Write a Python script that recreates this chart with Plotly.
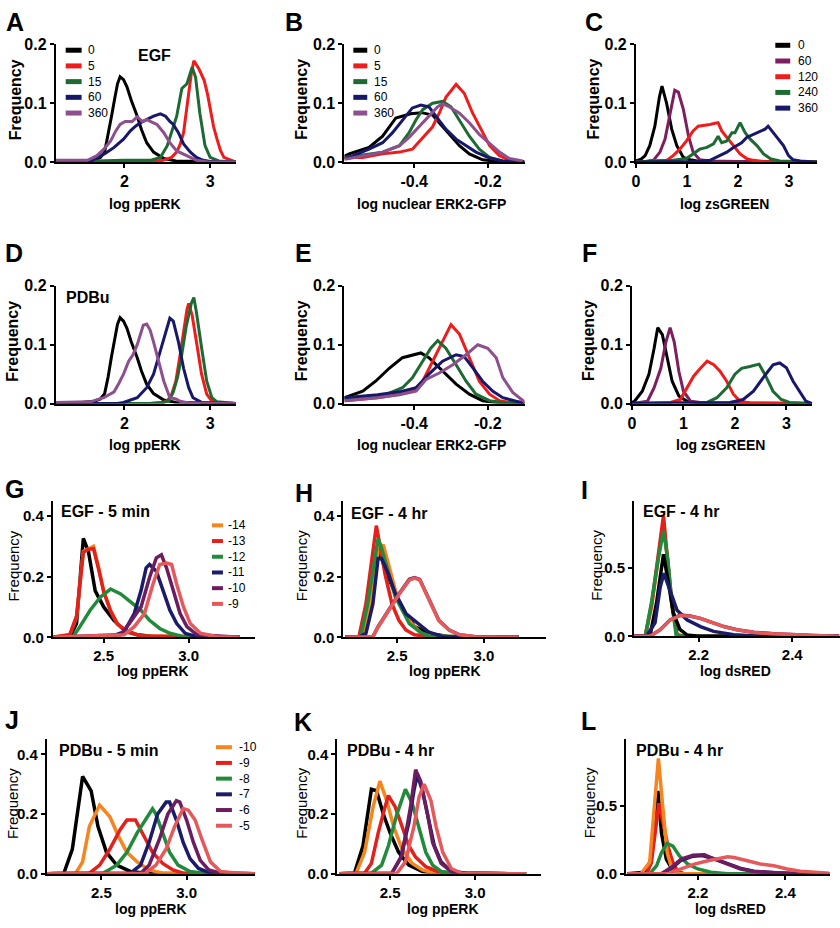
import plotly.graph_objects as go

# ---------------- colours ----------------
BLACK = "#000000"
RED = "#f01c1c"
GREEN_D = "#1d6a33"
NAVY = "#17186a"
MAUVE = "#8d4f8e"
WINE = "#7d1f5f"
ORANGE = "#f6841f"
RED2 = "#e3201b"
GREEN2 = "#228b3b"
NAVY2 = "#1b1b6b"
PURPLE2 = "#6c1c5f"
SALMON = "#e5595b"

# ---------------- data ----------------
# Panel A  (EGF, log ppERK)
A_labels = ["0", "5", "15", "60", "360"]
A0_x = [1.2, 1.5, 1.65, 1.72, 1.77, 1.81, 1.85, 1.89, 1.92, 1.95, 1.99, 2.03, 2.08, 2.15, 2.2, 2.26, 2.34, 2.46, 2.6, 3.3]
A0_y = [0.001, 0.002, 0.004, 0.008, 0.017, 0.045, 0.078, 0.11, 0.133, 0.145, 0.14, 0.128, 0.105, 0.078, 0.055, 0.033, 0.017, 0.006, 0.002, 0.0]
A1_x = [1.2, 2.3, 2.45, 2.55, 2.61, 2.65, 2.69, 2.72, 2.75, 2.78, 2.81, 2.87, 2.93, 2.97, 3.0, 3.04, 3.08, 3.12, 3.16, 3.3]
A1_y = [0.0, 0.001, 0.003, 0.008, 0.017, 0.03, 0.05, 0.08, 0.117, 0.15, 0.172, 0.158, 0.139, 0.115, 0.089, 0.06, 0.039, 0.02, 0.008, 0.0]
A2_x = [1.2, 1.6, 2.0, 2.3, 2.42, 2.5, 2.55, 2.61, 2.67, 2.73, 2.79, 2.83, 2.88, 2.94, 3.0, 3.1, 3.3]
A2_y = [0.0, 0.002, 0.003, 0.003, 0.008, 0.028, 0.05, 0.078, 0.125, 0.133, 0.161, 0.144, 0.083, 0.028, 0.008, 0.002, 0.0]
A3_x = [1.2, 1.58, 1.69, 1.78, 1.88, 1.99, 2.07, 2.13, 2.19, 2.26, 2.34, 2.42, 2.48, 2.53, 2.57, 2.63, 2.69, 2.77, 2.84, 2.92, 3.0, 3.3]
A3_y = [0.0, 0.0, 0.008, 0.015, 0.025, 0.039, 0.053, 0.061, 0.067, 0.072, 0.078, 0.082, 0.078, 0.069, 0.064, 0.05, 0.031, 0.017, 0.008, 0.003, 0.001, 0.0]
A4_x = [1.2, 1.57, 1.68, 1.76, 1.84, 1.9, 1.95, 2.01, 2.09, 2.15, 2.21, 2.26, 2.32, 2.38, 2.46, 2.53, 2.61, 2.69, 2.77, 2.84, 3.0, 3.3]
A4_y = [0.003, 0.003, 0.011, 0.022, 0.036, 0.053, 0.064, 0.069, 0.069, 0.077, 0.069, 0.072, 0.068, 0.064, 0.05, 0.033, 0.019, 0.014, 0.008, 0.003, 0.0, 0.0]

# Panel B  (EGF, log nuclear ERK2-GFP)
B0_x = [-0.59, -0.577, -0.523, -0.486, -0.45, -0.41, -0.38, -0.35, -0.332, -0.305, -0.277, -0.25, -0.214, -0.17, -0.1]
B0_y = [0.01, 0.014, 0.025, 0.044, 0.075, 0.082, 0.084, 0.08, 0.067, 0.047, 0.028, 0.014, 0.004, 0.001, 0.0]
B1_x = [-0.59, -0.54, -0.486, -0.44, -0.405, -0.377, -0.35, -0.332, -0.314, -0.286, -0.264, -0.241, -0.214, -0.195, -0.168, -0.141, -0.1]
B1_y = [0.008, 0.008, 0.014, 0.017, 0.022, 0.042, 0.06, 0.083, 0.11, 0.132, 0.117, 0.083, 0.05, 0.028, 0.011, 0.003, 0.0]
B2_x = [-0.59, -0.54, -0.486, -0.44, -0.414, -0.395, -0.377, -0.35, -0.323, -0.3, -0.277, -0.25, -0.223, -0.195, -0.16, -0.1]
B2_y = [0.008, 0.012, 0.017, 0.028, 0.05, 0.072, 0.089, 0.1, 0.103, 0.094, 0.072, 0.044, 0.022, 0.008, 0.002, 0.0]
B3_x = [-0.59, -0.577, -0.523, -0.486, -0.459, -0.432, -0.405, -0.382, -0.36, -0.341, -0.314, -0.286, -0.259, -0.232, -0.195, -0.159, -0.1]
B3_y = [0.006, 0.008, 0.022, 0.033, 0.05, 0.072, 0.092, 0.097, 0.094, 0.078, 0.056, 0.039, 0.028, 0.017, 0.007, 0.002, 0.0]
B4_x = [-0.59, -0.577, -0.486, -0.44, -0.414, -0.386, -0.36, -0.336, -0.323, -0.305, -0.277, -0.25, -0.223, -0.195, -0.168, -0.141, -0.105]
B4_y = [0.005, 0.006, 0.017, 0.028, 0.042, 0.061, 0.078, 0.094, 0.099, 0.094, 0.083, 0.067, 0.047, 0.031, 0.017, 0.006, 0.002]

# Panel C  (EGF, log zsGREEN)
C_labels = ["0", "60", "120", "240", "360"]
C0_x = [0, 0.1, 0.18, 0.27, 0.37, 0.46, 0.51, 0.6, 0.7, 0.8, 0.93, 1.06, 1.2, 1.5, 3.55]
C0_y = [0.002, 0.005, 0.011, 0.028, 0.061, 0.111, 0.129, 0.1, 0.056, 0.028, 0.008, 0.004, 0.002, 0.001, 0.0]
C1_x = [0, 0.2, 0.34, 0.47, 0.57, 0.67, 0.76, 0.83, 0.93, 1.03, 1.12, 1.25, 1.45, 2.0, 3.55]
C1_y = [0.0, 0.001, 0.003, 0.017, 0.039, 0.083, 0.122, 0.119, 0.089, 0.044, 0.017, 0.004, 0.002, 0.001, 0.0]
C2_x = [0, 0.6, 0.73, 0.86, 0.99, 1.12, 1.22, 1.32, 1.45, 1.55, 1.61, 1.68, 1.78, 1.91, 2.04, 2.17, 2.3, 2.5, 3.55]
C2_y = [0.0, 0.003, 0.011, 0.022, 0.036, 0.053, 0.061, 0.062, 0.064, 0.066, 0.067, 0.053, 0.042, 0.028, 0.014, 0.006, 0.003, 0.001, 0.0]
C3_x = [0, 0.73, 0.99, 1.12, 1.25, 1.39, 1.52, 1.61, 1.68, 1.78, 1.88, 1.94, 2.04, 2.14, 2.24, 2.37, 2.5, 2.63, 2.82, 3.55]
C3_y = [0.0, 0.003, 0.006, 0.014, 0.022, 0.025, 0.031, 0.044, 0.033, 0.036, 0.05, 0.05, 0.067, 0.05, 0.039, 0.028, 0.014, 0.006, 0.002, 0.0]
C4_x = [0, 1.2, 1.45, 1.65, 1.78, 1.91, 2.07, 2.17, 2.3, 2.43, 2.53, 2.59, 2.69, 2.79, 2.89, 2.99, 3.08, 3.22, 3.55]
C4_y = [0.0, 0.001, 0.003, 0.011, 0.017, 0.025, 0.033, 0.042, 0.047, 0.053, 0.056, 0.061, 0.05, 0.039, 0.028, 0.011, 0.004, 0.002, 0.0]

# Panel D  (PDBu, log ppERK)
D0_x = [1.2, 1.5, 1.65, 1.72, 1.77, 1.81, 1.85, 1.89, 1.92, 1.95, 1.99, 2.03, 2.08, 2.15, 2.2, 2.26, 2.34, 2.46, 2.6, 3.3]
D0_y = [0.001, 0.002, 0.004, 0.008, 0.017, 0.045, 0.08, 0.112, 0.135, 0.146, 0.14, 0.128, 0.105, 0.078, 0.055, 0.033, 0.017, 0.006, 0.002, 0.0]
D1_x = [1.2, 2.3, 2.45, 2.5, 2.55, 2.6, 2.65, 2.69, 2.73, 2.75, 2.79, 2.84, 2.9, 2.96, 3.02, 3.1, 3.3]
D1_y = [0.0, 0.0, 0.002, 0.005, 0.015, 0.038, 0.083, 0.125, 0.16, 0.17, 0.15, 0.105, 0.05, 0.016, 0.004, 0.001, 0.0]
D2_x = [1.2, 2.3, 2.45, 2.52, 2.57, 2.62, 2.66, 2.69, 2.72, 2.75, 2.78, 2.81, 2.84, 2.9, 2.96, 3.02, 3.08, 3.3]
D2_y = [0.0, 0.0, 0.002, 0.005, 0.02, 0.045, 0.075, 0.105, 0.13, 0.15, 0.17, 0.18, 0.155, 0.095, 0.038, 0.01, 0.003, 0.0]
D3_x = [1.2, 1.9, 1.99, 2.15, 2.26, 2.34, 2.42, 2.48, 2.53, 2.57, 2.63, 2.69, 2.75, 2.8, 2.9, 3.3]
D3_y = [0.0, 0.0, 0.002, 0.01, 0.027, 0.05, 0.09, 0.12, 0.145, 0.14, 0.105, 0.06, 0.027, 0.01, 0.002, 0.0]
D4_x = [1.2, 1.6, 1.76, 1.88, 1.93, 1.99, 2.05, 2.1, 2.15, 2.19, 2.22, 2.26, 2.3, 2.34, 2.4, 2.46, 2.53, 2.6, 2.65, 2.75, 3.3]
D4_y = [0.002, 0.003, 0.01, 0.02, 0.033, 0.05, 0.072, 0.083, 0.1, 0.12, 0.133, 0.135, 0.125, 0.105, 0.072, 0.038, 0.01, 0.008, 0.004, 0.001, 0.0]

# Panel E  (PDBu, log nuclear ERK2-GFP)
E0_x = [-0.59, -0.54, -0.505, -0.468, -0.432, -0.382, -0.36, -0.323, -0.286, -0.25, -0.214, -0.177, -0.1]
E0_y = [0.01, 0.021, 0.038, 0.06, 0.078, 0.086, 0.078, 0.055, 0.033, 0.016, 0.005, 0.002, 0.0]
E1_x = [-0.59, -0.5, -0.45, -0.405, -0.377, -0.35, -0.323, -0.3, -0.277, -0.25, -0.223, -0.195, -0.168, -0.13, -0.1]
E1_y = [0.005, 0.01, 0.015, 0.021, 0.038, 0.072, 0.105, 0.134, 0.118, 0.078, 0.038, 0.016, 0.005, 0.001, 0.0]
E2_x = [-0.59, -0.486, -0.432, -0.405, -0.377, -0.355, -0.336, -0.314, -0.286, -0.259, -0.232, -0.195, -0.15, -0.1]
E2_y = [0.008, 0.013, 0.027, 0.044, 0.072, 0.094, 0.107, 0.094, 0.066, 0.038, 0.016, 0.005, 0.001, 0.0]
E3_x = [-0.59, -0.5, -0.44, -0.395, -0.36, -0.323, -0.286, -0.264, -0.241, -0.214, -0.186, -0.159, -0.123, -0.1]
E3_y = [0.01, 0.015, 0.02, 0.027, 0.05, 0.072, 0.083, 0.08, 0.061, 0.038, 0.021, 0.01, 0.004, 0.001]
E4_x = [-0.59, -0.5, -0.44, -0.395, -0.368, -0.332, -0.295, -0.259, -0.227, -0.2, -0.177, -0.159, -0.132, -0.105, -0.1]
E4_y = [0.005, 0.01, 0.015, 0.021, 0.041, 0.052, 0.066, 0.083, 0.1, 0.094, 0.078, 0.044, 0.019, 0.005, 0.003]

# Panel F  (PDBu, log zsGREEN)
F0_x = [0, 0.05, 0.2, 0.33, 0.43, 0.5, 0.59, 0.69, 0.78, 0.91, 1.07, 1.3, 3.5]
F0_y = [0.002, 0.004, 0.021, 0.05, 0.094, 0.129, 0.117, 0.078, 0.038, 0.013, 0.004, 0.001, 0.0]
F1_x = [0, 0.3, 0.43, 0.56, 0.66, 0.74, 0.82, 0.91, 1.0, 1.14, 1.4, 3.5]
F1_y = [0.0, 0.004, 0.027, 0.06, 0.105, 0.129, 0.105, 0.055, 0.021, 0.004, 0.001, 0.0]
F2_x = [0, 0.75, 0.94, 1.07, 1.2, 1.33, 1.46, 1.59, 1.71, 1.84, 1.97, 2.1, 2.3, 3.5]
F2_y = [0.0, 0.002, 0.007, 0.027, 0.047, 0.06, 0.072, 0.066, 0.055, 0.038, 0.016, 0.004, 0.001, 0.0]
F3_x = [0, 1.46, 1.65, 1.84, 2.0, 2.13, 2.29, 2.47, 2.58, 2.74, 2.9, 3.06, 3.5]
F3_y = [0.0, 0.002, 0.01, 0.027, 0.05, 0.06, 0.063, 0.067, 0.05, 0.021, 0.007, 0.002, 0.0]
F4_x = [0, 1.9, 2.16, 2.36, 2.55, 2.74, 2.87, 3.0, 3.13, 3.26, 3.38, 3.5]
F4_y = [0.0, 0.002, 0.007, 0.021, 0.044, 0.066, 0.069, 0.061, 0.038, 0.021, 0.004, 0.0]

# Panel G  (EGF - 5 min, log ppERK)
G_labels = ["-14", "-13", "-12", "-11", "-10", "-9"]
G0_x = [2.2, 2.3, 2.34, 2.38, 2.41, 2.45, 2.5, 2.56, 2.62, 2.7, 2.8, 3.3]
G0_y = [0.0, 0.0, 0.045, 0.326, 0.283, 0.153, 0.1, 0.056, 0.024, 0.008, 0.002, 0.0]
G1_x = [2.2, 2.3, 2.34, 2.38, 2.42, 2.44, 2.47, 2.5, 2.54, 2.58, 2.64, 2.72, 3.3]
G1_y = [0.0, 0.008, 0.067, 0.283, 0.294, 0.3, 0.23, 0.153, 0.089, 0.045, 0.018, 0.004, 0.0]
G2_x = [2.2, 2.3, 2.34, 2.38, 2.41, 2.44, 2.47, 2.5, 2.54, 2.58, 2.64, 2.72, 3.3]
G2_y = [0.0, 0.008, 0.07, 0.28, 0.29, 0.292, 0.225, 0.15, 0.087, 0.044, 0.017, 0.004, 0.0]
G3_x = [2.2, 2.32, 2.36, 2.42, 2.48, 2.54, 2.6, 2.65, 2.72, 2.77, 2.83, 2.89, 2.97, 3.3]
G3_y = [0.0, 0.002, 0.035, 0.089, 0.132, 0.159, 0.143, 0.121, 0.089, 0.056, 0.029, 0.013, 0.002, 0.0]
G4_x = [2.2, 2.54, 2.62, 2.68, 2.72, 2.75, 2.77, 2.81, 2.85, 2.89, 2.93, 2.98, 3.05, 3.3]
G4_y = [0.0, 0.002, 0.018, 0.078, 0.154, 0.229, 0.24, 0.218, 0.154, 0.089, 0.045, 0.013, 0.002, 0.0]
G5_x = [2.2, 2.6, 2.65, 2.72, 2.77, 2.81, 2.84, 2.87, 2.91, 2.95, 2.99, 3.05, 3.3]
G5_y = [0.0, 0.008, 0.045, 0.1, 0.197, 0.262, 0.272, 0.229, 0.154, 0.078, 0.035, 0.008, 0.0]
G6_x = [2.2, 2.62, 2.68, 2.74, 2.79, 2.83, 2.87, 2.9, 2.93, 2.97, 3.01, 3.07, 3.17, 3.3]
G6_y = [0.0, 0.008, 0.035, 0.078, 0.175, 0.24, 0.245, 0.24, 0.175, 0.1, 0.045, 0.013, 0.002, 0.0]

# Panel H  (EGF - 4 hr, log ppERK)
H0_x = [2.2, 2.3, 2.35, 2.39, 2.41, 2.45, 2.49, 2.55, 2.6, 2.68, 2.8, 3.2]
H0_y = [0.0, 0.002, 0.11, 0.283, 0.26, 0.197, 0.143, 0.078, 0.035, 0.013, 0.002, 0.0]
H1_x = [2.2, 2.3, 2.35, 2.39, 2.42, 2.45, 2.49, 2.53, 2.59, 2.64, 2.7, 3.2]
H1_y = [0.0, 0.002, 0.132, 0.283, 0.305, 0.24, 0.154, 0.089, 0.04, 0.013, 0.003, 0.0]
H2_x = [2.2, 2.28, 2.32, 2.36, 2.38, 2.4, 2.43, 2.47, 2.51, 2.55, 2.6, 2.7, 3.2]
H2_y = [0.0, 0.002, 0.11, 0.283, 0.368, 0.305, 0.208, 0.11, 0.056, 0.024, 0.008, 0.002, 0.0]
H3_x = [2.2, 2.29, 2.33, 2.37, 2.39, 2.41, 2.45, 2.49, 2.53, 2.57, 2.63, 2.68, 3.2]
H3_y = [0.0, 0.002, 0.11, 0.26, 0.326, 0.294, 0.208, 0.132, 0.089, 0.045, 0.018, 0.004, 0.0]
H4_x = [2.2, 2.28, 2.32, 2.36, 2.39, 2.41, 2.45, 2.49, 2.55, 2.61, 2.68, 2.76, 3.2]
H4_y = [0.0, 0.0, 0.013, 0.11, 0.26, 0.26, 0.208, 0.143, 0.078, 0.051, 0.018, 0.002, 0.0]
H5_x = [2.2, 2.36, 2.39, 2.45, 2.51, 2.57, 2.6, 2.63, 2.66, 2.7, 2.74, 2.8, 2.86, 2.95, 3.2]
H5_y = [0.0, 0.002, 0.035, 0.089, 0.143, 0.191, 0.197, 0.191, 0.154, 0.1, 0.056, 0.024, 0.008, 0.002, 0.0]
H6_x = [2.2, 2.36, 2.39, 2.45, 2.51, 2.57, 2.6, 2.63, 2.66, 2.7, 2.74, 2.8, 2.86, 2.95, 3.2]
H6_y = [0.0, 0.002, 0.033, 0.087, 0.141, 0.188, 0.195, 0.189, 0.152, 0.099, 0.055, 0.023, 0.008, 0.002, 0.0]

# Panel I  (EGF - 4 hr, log dsRED)
I0_x = [2.06, 2.096, 2.11, 2.125, 2.136, 2.146, 2.16, 2.175, 2.2, 2.5]
I0_y = [0.0, 0.0, 0.24, 0.6, 0.38, 0.17, 0.05, 0.01, 0.0, 0.0]
I1_x = [2.06, 2.086, 2.1, 2.114, 2.125, 2.132, 2.143, 2.154, 2.17, 2.5]
I1_y = [0.0, 0.0, 0.22, 0.6, 0.85, 0.6, 0.22, 0.01, 0.0, 0.0]
I2_x = [2.06, 2.086, 2.1, 2.114, 2.125, 2.132, 2.143, 2.154, 2.17, 2.5]
I2_y = [0.0, 0.0, 0.24, 0.62, 0.88, 0.62, 0.24, 0.01, 0.0, 0.0]
I3_x = [2.06, 2.086, 2.1, 2.114, 2.125, 2.134, 2.143, 2.152, 2.17, 2.5]
I3_y = [0.0, 0.0, 0.26, 0.57, 0.77, 0.57, 0.24, 0.01, 0.0, 0.0]
I4_x = [2.06, 2.089, 2.107, 2.118, 2.126, 2.139, 2.154, 2.175, 2.204, 2.232, 2.275, 2.33, 2.5]
I4_y = [0.0, 0.0, 0.1, 0.36, 0.46, 0.33, 0.19, 0.12, 0.071, 0.036, 0.012, 0.0, 0.0]
I5_x = [2.06, 2.096, 2.118, 2.139, 2.161, 2.182, 2.204, 2.225, 2.254, 2.282, 2.318, 2.36, 2.404, 2.446, 2.5]
I5_y = [0.0, 0.0, 0.048, 0.12, 0.155, 0.148, 0.131, 0.107, 0.071, 0.048, 0.029, 0.019, 0.01, 0.005, 0.0]
I6_x = [2.06, 2.096, 2.118, 2.139, 2.161, 2.182, 2.204, 2.225, 2.254, 2.282, 2.318, 2.36, 2.404, 2.446, 2.5]
I6_y = [0.0, 0.0, 0.046, 0.118, 0.152, 0.147, 0.13, 0.106, 0.07, 0.047, 0.028, 0.018, 0.01, 0.005, 0.0]

# Panel J  (PDBu - 5 min, log ppERK)
J_labels = ["-10", "-9", "-8", "-7", "-6", "-5"]
J0_x = [2.18, 2.28, 2.33, 2.36, 2.39, 2.44, 2.48, 2.53, 2.59, 2.67, 2.76, 3.4]
J0_y = [0.0, 0.002, 0.083, 0.2, 0.326, 0.278, 0.159, 0.072, 0.029, 0.008, 0.002, 0.0]
J1_x = [2.18, 2.35, 2.39, 2.43, 2.49, 2.55, 2.6, 2.65, 2.71, 2.78, 2.86, 3.4]
J1_y = [0.0, 0.002, 0.04, 0.159, 0.23, 0.191, 0.126, 0.072, 0.04, 0.013, 0.002, 0.0]
J2_x = [2.18, 2.43, 2.49, 2.55, 2.61, 2.65, 2.7, 2.75, 2.8, 2.86, 2.92, 2.98, 3.4]
J2_y = [0.0, 0.002, 0.029, 0.083, 0.148, 0.18, 0.18, 0.126, 0.072, 0.035, 0.013, 0.002, 0.0]
J3_x = [2.18, 2.51, 2.59, 2.65, 2.71, 2.76, 2.8, 2.82, 2.86, 2.9, 2.95, 3.02, 3.1, 3.4]
J3_y = [0.0, 0.002, 0.029, 0.072, 0.137, 0.18, 0.218, 0.2, 0.137, 0.072, 0.029, 0.008, 0.002, 0.0]
J4_x = [2.18, 2.67, 2.73, 2.78, 2.83, 2.88, 2.9, 2.94, 2.98, 3.02, 3.07, 3.14, 3.4]
J4_y = [0.0, 0.002, 0.029, 0.105, 0.2, 0.24, 0.24, 0.18, 0.105, 0.051, 0.018, 0.002, 0.0]
J5_x = [2.18, 2.73, 2.78, 2.84, 2.89, 2.94, 2.96, 3.0, 3.04, 3.08, 3.13, 3.2, 3.4]
J5_y = [0.0, 0.002, 0.029, 0.115, 0.2, 0.245, 0.24, 0.18, 0.105, 0.045, 0.013, 0.002, 0.0]
J6_x = [2.18, 2.76, 2.82, 2.88, 2.93, 2.98, 3.01, 3.05, 3.09, 3.14, 3.2, 3.3, 3.4]
J6_y = [0.0, 0.002, 0.029, 0.083, 0.159, 0.218, 0.213, 0.18, 0.115, 0.04, 0.008, 0.002, 0.0]

# Panel K  (PDBu - 4 hr, log ppERK)
K0_x = [2.2, 2.29, 2.34, 2.39, 2.42, 2.46, 2.5, 2.55, 2.61, 2.69, 2.8, 3.3]
K0_y = [0.0, 0.002, 0.093, 0.283, 0.278, 0.2, 0.137, 0.072, 0.029, 0.008, 0.002, 0.0]
K1_x = [2.2, 2.3, 2.35, 2.4, 2.44, 2.48, 2.52, 2.57, 2.63, 2.69, 2.76, 3.3]
K1_y = [0.0, 0.002, 0.072, 0.224, 0.31, 0.245, 0.159, 0.083, 0.035, 0.013, 0.002, 0.0]
K2_x = [2.2, 2.35, 2.39, 2.43, 2.47, 2.49, 2.53, 2.57, 2.61, 2.65, 2.71, 2.78, 2.85, 3.3]
K2_y = [0.0, 0.002, 0.035, 0.137, 0.224, 0.262, 0.224, 0.159, 0.094, 0.056, 0.024, 0.008, 0.002, 0.0]
K3_x = [2.2, 2.39, 2.45, 2.49, 2.54, 2.59, 2.63, 2.67, 2.71, 2.75, 2.8, 2.9, 3.3]
K3_y = [0.0, 0.002, 0.029, 0.094, 0.2, 0.283, 0.235, 0.148, 0.072, 0.029, 0.008, 0.002, 0.0]
K4_x = [2.2, 2.51, 2.56, 2.61, 2.64, 2.66, 2.69, 2.73, 2.76, 2.8, 2.86, 2.95, 3.3]
K4_y = [0.0, 0.002, 0.051, 0.17, 0.278, 0.332, 0.278, 0.18, 0.094, 0.04, 0.008, 0.002, 0.0]
K5_x = [2.2, 2.51, 2.57, 2.62, 2.65, 2.68, 2.72, 2.75, 2.8, 2.86, 2.95, 3.3]
K5_y = [0.0, 0.002, 0.062, 0.224, 0.348, 0.31, 0.2, 0.105, 0.035, 0.008, 0.002, 0.0]
K6_x = [2.2, 2.54, 2.59, 2.64, 2.67, 2.7, 2.74, 2.77, 2.81, 2.86, 2.92, 3.3]
K6_y = [0.0, 0.002, 0.04, 0.159, 0.256, 0.3, 0.245, 0.159, 0.072, 0.018, 0.002, 0.0]

# Panel L  (PDBu - 4 hr, log dsRED)
L0_x = [2.04, 2.08, 2.093, 2.1, 2.109, 2.117, 2.128, 2.143, 2.155, 2.17, 2.5]
L0_y = [0.0, 0.012, 0.108, 0.3, 0.61, 0.3, 0.108, 0.024, 0.012, 0.0, 0.0]
L1_x = [2.04, 2.07, 2.09, 2.1, 2.11, 2.12, 2.13, 2.143, 2.16, 2.5]
L1_y = [0.0, 0.0, 0.084, 0.49, 0.85, 0.49, 0.156, 0.012, 0.0, 0.0]
L2_x = [2.04, 2.083, 2.094, 2.106, 2.111, 2.121, 2.132, 2.143, 2.155, 2.17, 2.5]
L2_y = [0.0, 0.0, 0.084, 0.37, 0.52, 0.37, 0.2, 0.084, 0.012, 0.0, 0.0]
L3_x = [2.04, 2.09, 2.106, 2.117, 2.13, 2.143, 2.158, 2.177, 2.2, 2.23, 2.268, 2.5]
L3_y = [0.0, 0.0, 0.06, 0.156, 0.224, 0.204, 0.132, 0.072, 0.036, 0.012, 0.0, 0.0]
L4_x = [2.04, 2.117, 2.14, 2.162, 2.189, 2.21, 2.238, 2.268, 2.298, 2.328, 2.374, 2.419, 2.5]
L4_y = [0.0, 0.0, 0.04, 0.1, 0.13, 0.135, 0.11, 0.075, 0.04, 0.02, 0.008, 0.003, 0.0]
L5_x = [2.04, 2.117, 2.14, 2.162, 2.189, 2.215, 2.238, 2.268, 2.298, 2.328, 2.374, 2.419, 2.494, 2.5]
L5_y = [0.0, 0.0, 0.048, 0.108, 0.137, 0.14, 0.108, 0.072, 0.036, 0.017, 0.007, 0.002, 0.0, 0.0]
L6_x = [2.04, 2.132, 2.162, 2.192, 2.223, 2.245, 2.268, 2.283, 2.313, 2.343, 2.374, 2.404, 2.434, 2.479, 2.5]
L6_y = [0.0, 0.0, 0.036, 0.072, 0.096, 0.108, 0.125, 0.12, 0.096, 0.072, 0.06, 0.036, 0.019, 0.01, 0.005]

# tick values / labels
tick_ppERK = [2, 3]
tick_ppERK_txt = ["2", "3"]
tick_gfp = [-0.4, -0.2]
tick_gfp_txt = ["-0.4", "-0.2"]
tick_zs = [0, 1, 2, 3]
tick_zs_txt = ["0", "1", "2", "3"]
tick_pp2 = [2.5, 3.0]
tick_pp2_txt = ["2.5", "3.0"]
tick_ds = [2.2, 2.4]
tick_ds_txt = ["2.2", "2.4"]
ytick_small = [0, 0.1, 0.2]
ytick_mid = [0, 0.2, 0.4]
ytick_big = [0, 0.5]

# ---------------- layout helpers ----------------
W, H = 840, 928
FONT = "Liberation Sans, Arial, sans-serif"


def PX(x):
    return x / W


def PY(y):
    return 1 - y / H


C6 = [BLACK, ORANGE, RED2, GREEN2, NAVY2, PURPLE2, SALMON]

panels = [
    dict(letter="A", s=[(A0_x, A0_y), (A1_x, A1_y), (A2_x, A2_y), (A3_x, A3_y), (A4_x, A4_y)],
         c=[BLACK, RED, GREEN_D, NAVY, MAUVE], box=(52, 233, 37, 157), xr=[1.2, 3.3], yr=[0, 0.2],
         xt=(tick_ppERK, tick_ppERK_txt), yt=ytick_small, xlab="log ppERK", big=True,
         letpos=(11, 14), freq=(11, 93), xlabpos=(142, 200)),
    dict(letter="B", s=[(B0_x, B0_y), (B1_x, B1_y), (B2_x, B2_y), (B3_x, B3_y), (B4_x, B4_y)],
         c=[BLACK, RED, GREEN_D, NAVY, MAUVE], box=(342, 523, 37, 157), xr=[-0.59, -0.1], yr=[0, 0.2],
         xt=(tick_gfp, tick_gfp_txt), yt=ytick_small, xlab="log nuclear ERK2-GFP", big=True,
         letpos=(291, 14), freq=(299, 93), xlabpos=(430, 200)),
    dict(letter="C", s=[(C0_x, C0_y), (C1_x, C1_y), (C2_x, C2_y), (C3_x, C3_y), (C4_x, C4_y)],
         c=[BLACK, WINE, RED, GREEN_D, NAVY], box=(635, 817, 37, 157), xr=[0, 3.55], yr=[0, 0.2],
         xt=(tick_zs, tick_zs_txt), yt=ytick_small, xlab="log zsGREEN", big=True,
         letpos=(593, 14), freq=(592, 93), xlabpos=(724, 200)),
    dict(letter="D", s=[(D0_x, D0_y), (D1_x, D1_y), (D2_x, D2_y), (D3_x, D3_y), (D4_x, D4_y)],
         c=[BLACK, RED, GREEN_D, NAVY, MAUVE], box=(52, 233, 283, 403), xr=[1.2, 3.3], yr=[0, 0.2],
         xt=(tick_ppERK, tick_ppERK_txt), yt=ytick_small, xlab="log ppERK", big=True,
         letpos=(10, 250), freq=(9, 339), xlabpos=(142, 445)),
    dict(letter="E", s=[(E0_x, E0_y), (E1_x, E1_y), (E2_x, E2_y), (E3_x, E3_y), (E4_x, E4_y)],
         c=[BLACK, RED, GREEN_D, NAVY, MAUVE], box=(342, 523, 283, 403), xr=[-0.59, -0.1], yr=[0, 0.2],
         xt=(tick_gfp, tick_gfp_txt), yt=ytick_small, xlab="log nuclear ERK2-GFP", big=True,
         letpos=(301, 250), freq=(299, 339), xlabpos=(430, 445)),
    dict(letter="F", s=[(F0_x, F0_y), (F1_x, F1_y), (F2_x, F2_y), (F3_x, F3_y), (F4_x, F4_y)],
         c=[BLACK, WINE, RED, GREEN_D, NAVY], box=(631, 812, 283, 403), xr=[0, 3.5], yr=[0, 0.2],
         xt=(tick_zs, tick_zs_txt), yt=ytick_small, xlab="log zsGREEN", big=True,
         letpos=(588, 250), freq=(588, 339), xlabpos=(720, 445)),
    dict(letter="G", s=[(G0_x, G0_y), (G1_x, G1_y), (G2_x, G2_y), (G3_x, G3_y), (G4_x, G4_y), (G5_x, G5_y), (G6_x, G6_y)],
         c=C6, box=(49, 252, 502, 641), xr=[2.2, 3.39], yr=[0, 0.45],
         xt=(tick_pp2, tick_pp2_txt), yt=ytick_mid, xlab="log ppERK", big=False,
         letpos=(11, 490), freq=(10, 568), xlabpos=(150, 675)),
    dict(letter="H", s=[(H0_x, H0_y), (H1_x, H1_y), (H2_x, H2_y), (H3_x, H3_y), (H4_x, H4_y), (H5_x, H5_y), (H6_x, H6_y)],
         c=C6, box=(341, 545, 502, 641), xr=[2.19, 3.36], yr=[0, 0.45],
         xt=(tick_pp2, tick_pp2_txt), yt=ytick_mid, xlab="log ppERK", big=False,
         letpos=(301, 494), freq=(299, 568), xlabpos=(443, 675)),
    dict(letter="I", s=[(I1_x, I1_y), (I2_x, I2_y), (I3_x, I3_y), (I0_x, I0_y), (I4_x, I4_y), (I5_x, I5_y), (I6_x, I6_y)],
         c=[ORANGE, RED2, GREEN2, BLACK, NAVY2, PURPLE2, SALMON], box=(633, 840, 502, 640), xr=[2.062, 2.502], yr=[0, 0.99],
         xt=(tick_ds, tick_ds_txt), yt=ytick_big, xlab="log dsRED", big=False,
         letpos=(583, 491), freq=(595, 568), xlabpos=(735, 675)),
    dict(letter="J", s=[(J0_x, J0_y), (J1_x, J1_y), (J2_x, J2_y), (J3_x, J3_y), (J4_x, J4_y), (J5_x, J5_y), (J6_x, J6_y)],
         c=C6, box=(43, 252, 745, 882), xr=[2.18, 3.4], yr=[0, 0.45],
         xt=(tick_pp2, tick_pp2_txt), yt=ytick_mid, xlab="log ppERK", big=False,
         letpos=(8, 725), freq=(8, 810), xlabpos=(148, 918)),
    dict(letter="K", s=[(K0_x, K0_y), (K1_x, K1_y), (K2_x, K2_y), (K3_x, K3_y), (K4_x, K4_y), (K5_x, K5_y), (K6_x, K6_y)],
         c=C6, box=(335, 540, 745, 882), xr=[2.19, 3.39], yr=[0, 0.45],
         xt=(tick_pp2, tick_pp2_txt), yt=ytick_mid, xlab="log ppERK", big=False,
         letpos=(300, 727), freq=(299, 810), xlabpos=(441, 918)),
    dict(letter="L", s=[(L0_x, L0_y), (L2_x, L2_y), (L1_x, L1_y), (L3_x, L3_y), (L4_x, L4_y), (L5_x, L5_y), (L6_x, L6_y)],
         c=[BLACK, RED2, ORANGE, GREEN2, NAVY2, PURPLE2, SALMON], box=(625, 830, 745, 882), xr=[2.036, 2.502], yr=[0, 0.99],
         xt=(tick_ds, tick_ds_txt), yt=ytick_big, xlab="log dsRED", big=False,
         letpos=(587, 726), freq=(588, 810), xlabpos=(730, 918)),
]

fig = go.Figure()
layout = dict(width=W, height=H, margin=dict(l=0, r=0, t=0, b=0),
              plot_bgcolor="white", paper_bgcolor="white", showlegend=False,
              font=dict(family=FONT, color="black"))
annotations = []
shapes = []

for i, p in enumerate(panels, start=1):
    xa = "x" if i == 1 else f"x{i}"
    ya = "y" if i == 1 else f"y{i}"
    lw = 3 if p["big"] else 3.5
    for (xs, ys), col in zip(p["s"], p["c"]):
        fig.add_trace(go.Scatter(x=xs, y=ys, mode="lines", xaxis=xa, yaxis=ya,
                                 line=dict(color=col, width=lw), hoverinfo="skip"))
    x0, x1, y0, y1 = p["box"]
    tfs = 16 if p["big"] else 15
    common = dict(showline=True, linecolor="black", linewidth=2, ticks="outside", ticklen=4,
                  tickwidth=2, tickcolor="black", showgrid=False, zeroline=False,
                  tickfont=dict(family=FONT, size=tfs, color="black", weight="bold"))
    layout["xaxis" if i == 1 else f"xaxis{i}"] = dict(
        domain=[PX(x0), PX(x1)], range=p["xr"], anchor=ya,
        tickmode="array", tickvals=p["xt"][0], ticktext=p["xt"][1], **common)
    layout["yaxis" if i == 1 else f"yaxis{i}"] = dict(
        domain=[PY(y1), PY(y0)], range=p["yr"], anchor=xa,
        tickmode="array", tickvals=p["yt"], tickformat=".1f", **common)
    # panel letter
    annotations.append(dict(x=PX(p["letpos"][0]), y=PY(p["letpos"][1]), xref="paper", yref="paper",
                            text=p["letter"], showarrow=False, xanchor="center", yanchor="middle",
                            font=dict(family=FONT, size=25, color="black", weight="bold")))
    # y title
    annotations.append(dict(x=PX(p["freq"][0]), y=PY(p["freq"][1]), xref="paper", yref="paper",
                            text="Frequency", textangle=-90, showarrow=False,
                            xanchor="center", yanchor="middle",
                            font=dict(family=FONT, size=16 if p["big"] else 15, color="black",
                                      weight="bold" if p["big"] else "normal")))
    # x title
    annotations.append(dict(x=PX(p["xlabpos"][0]), y=PY(p["xlabpos"][1]), xref="paper", yref="paper",
                            text=p["xlab"], showarrow=False, xanchor="center", yanchor="middle",
                            font=dict(family=FONT, size=14, color="black", weight="bold")))

# in-panel titles (left x, centre y in px)
inner = [("EGF", 133, 48, 16), ("PDBu", 60, 295, 16), ("EGF - 5 min", 55, 513, 16),
         ("EGF - 4 hr", 347, 515, 16), ("EGF - 4 hr", 640, 513, 16),
         ("PDBu - 5 min", 53, 756, 16), ("PDBu - 4 hr", 343, 756, 16), ("PDBu - 4 hr", 633, 756, 16)]
for t, x, y, s in inner:
    annotations.append(dict(x=PX(x), y=PY(y), xref="paper", yref="paper", text=t, showarrow=False,
                            xanchor="left", yanchor="middle",
                            font=dict(family=FONT, size=s, color="black", weight="bold")))


# legends: (labels, colours, line x0, line x1, text x, first y, step)
def add_legend(labels, cols, lx0, lx1, tx, y0, dy, fs, lw):
    for k, (lab, col) in enumerate(zip(labels, cols)):
        y = y0 + k * dy
        shapes.append(dict(type="line", xref="paper", yref="paper", x0=PX(lx0), x1=PX(lx1),
                           y0=PY(y), y1=PY(y), line=dict(color=col, width=lw)))
        annotations.append(dict(x=PX(tx), y=PY(y), xref="paper", yref="paper", text=lab,
                                showarrow=False, xanchor="left", yanchor="middle",
                                font=dict(family=FONT, size=fs, color="black")))


add_legend(A_labels, [BLACK, RED, GREEN_D, NAVY, MAUVE], 62, 78, 82, 43, 16, 12, 5)
add_legend(A_labels, [BLACK, RED, GREEN_D, NAVY, MAUVE], 351, 365, 370, 43, 16, 12, 5)
add_legend(C_labels, [BLACK, WINE, RED, GREEN_D, NAVY], 775, 790, 796, 38, 16, 12, 5)
add_legend(G_labels, [ORANGE, RED2, GREEN2, NAVY2, PURPLE2, SALMON], 209, 220, 223, 527, 16, 12, 4)
add_legend(J_labels, [ORANGE, RED2, GREEN2, NAVY2, PURPLE2, SALMON], 213, 229, 234, 753, 16, 12, 4)

layout["annotations"] = annotations
layout["shapes"] = shapes
fig.update_layout(**layout)
fig.write_html(
    "out.html",
    config={"displayModeBar": False, "staticPlot": True},
    post_script="document.body.style.margin='0';document.body.style.padding='0';"
                "document.documentElement.style.overflow='hidden';",
)
